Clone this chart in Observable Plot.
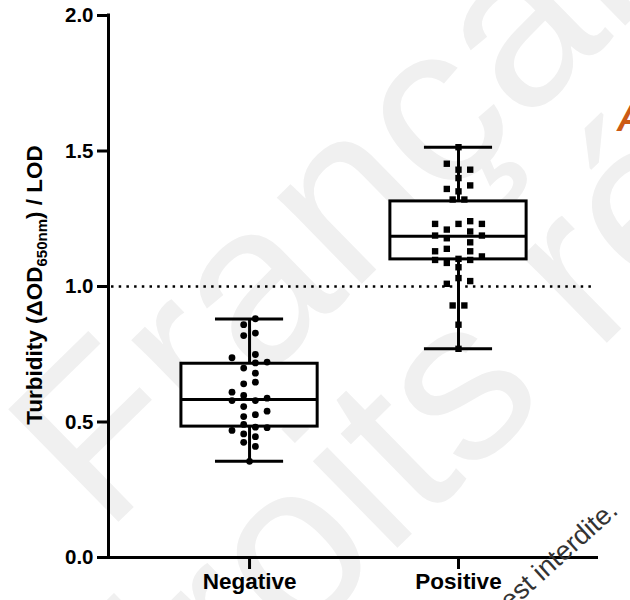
<!DOCTYPE html>
<html>
<head>
<meta charset="utf-8">
<script src="https://cdn.jsdelivr.net/npm/d3@7"></script>
<script src="https://cdn.jsdelivr.net/npm/@observablehq/plot@0.6"></script>
<style>
  html, body { margin: 0; padding: 0; background: white; }
  #chart { width: 630px; height: 600px; overflow: hidden; }
</style>
</head>
<body>
<div id="chart"></div>
<script>
// ---- Data ----
const categories = ["Negative", "Positive"];

const negativeValues = [0.881, 0.859, 0.828, 0.819, 0.749, 0.737, 0.721, 0.718, 0.699, 0.680,
  0.647, 0.641, 0.610, 0.598, 0.588, 0.579, 0.579, 0.557, 0.540, 0.527,
  0.520, 0.491, 0.481, 0.479, 0.469, 0.456, 0.446, 0.425, 0.410, 0.355];
const negativeColumns = [0.5, -0.5, 0.5, -0.5, 0.5, -1.5, 1.5, 0.5, -0.5, 0.5,
  0.5, -0.5, -1.5, -0.5, 1.5, -1.5, 0.5, -0.5, 1.5, 0.5,
  -0.5, -0.5, 0.5, 1.5, -1.5, -0.5, 0.5, -0.5, 0.5, 0];

const positiveValues = [1.514, 1.453, 1.431, 1.431, 1.400, 1.373, 1.360, 1.351, 1.321, 1.321,
  1.231, 1.231, 1.241, 1.231, 1.210, 1.203, 1.188, 1.188, 1.178, 1.163,
  1.139, 1.130, 1.130, 1.111, 1.098, 1.102, 1.098, 1.087, 1.071, 1.031,
  1.010, 1.020, 0.930, 0.930, 0.859, 0.770];
const positiveColumns = [0, -1, 0, 1, 0, 1, -1, 0, -0.5, 0.5,
  -2, 0, 1, 2, -1, 1, -2, 2, -1, 1,
  -1, -2, 1, 2, -2, 0, 1, -1, 0, 0,
  -1, 1, -0.5, 0.5, 0, 0];

// box statistics (min, Q1, median, Q3, max) per category
const boxMin = [0.355, 0.770];
const boxQ1 = [0.483, 1.100];
const boxMedian = [0.583, 1.185];
const boxQ3 = [0.715, 1.314];
const boxMax = [0.880, 1.514];

const yTicks = [0, 0.5, 1.0, 1.5, 2.0];
const thresholdLine = [1.0];

// ---- Derived tables ----
const xDomain = [0.325, 2.67];
const boxHalf = 0.326, capHalf = 0.163, colStep = 0.056;

const boxes = categories.map((c, i) => ({
  cat: c, pos: i + 1,
  min: boxMin[i], q1: boxQ1[i], median: boxMedian[i], q3: boxQ3[i], max: boxMax[i]
}));
const negPoints = negativeValues.map((v, i) => ({ x: 1 + negativeColumns[i] * colStep, y: v }));
const posPoints = positiveValues.map((v, i) => ({ x: 2 + positiveColumns[i] * colStep, y: v }));

const font = "'Liberation Sans', Arial, sans-serif";

const plot = Plot.plot({
  width: 630,
  height: 600,
  marginLeft: 108,
  marginRight: 32,
  marginTop: 15,
  marginBottom: 43,
  style: { fontFamily: font, background: "white", color: "black" },
  x: { type: "linear", domain: xDomain },
  y: { domain: [0, 2] },
  marks: [
    // whiskers
    Plot.ruleX(boxes, { x: "pos", y1: "min", y2: "max", stroke: "black", strokeWidth: 3 }),
    Plot.ruleY(boxes, { y: "min", x1: d => d.pos - capHalf, x2: d => d.pos + capHalf, stroke: "black", strokeWidth: 3 }),
    Plot.ruleY(boxes, { y: "max", x1: d => d.pos - capHalf, x2: d => d.pos + capHalf, stroke: "black", strokeWidth: 3 }),
    // box
    Plot.rect(boxes, { x1: d => d.pos - boxHalf, x2: d => d.pos + boxHalf, y1: "q1", y2: "q3", fill: "white", stroke: "black", strokeWidth: 3 }),
    Plot.ruleY(boxes, { y: "median", x1: d => d.pos - boxHalf, x2: d => d.pos + boxHalf, stroke: "black", strokeWidth: 3 }),
    // threshold
    Plot.ruleY(thresholdLine, { stroke: "black", strokeWidth: 2.5, strokeDasharray: "2.5,5.2", insetLeft: 3, insetRight: 2 }),
    // points
    Plot.dot(negPoints, { x: "x", y: "y", r: 3.4, fill: "black", stroke: "none", symbol: "circle" }),
    Plot.dot(posPoints, { x: "x", y: "y", r: 3.6, fill: "black", stroke: "none", symbol: "square" }),
    // axis lines
    Plot.ruleX([xDomain[0]], { y1: 0, y2: 2, stroke: "black", strokeWidth: 3, strokeLinecap: "square" }),
    Plot.ruleY([0], { stroke: "black", strokeWidth: 3 }),
    // axes
    Plot.axisY({ ticks: yTicks, tickFormat: d3.format(".1f"), tickSize: 11, tickPadding: 4,
      strokeWidth: 3, fontSize: 20.5, fontWeight: "bold", label: null }),
    Plot.axisX({ ticks: [1, 2], tickFormat: d => categories[d - 1], tickSize: 12, tickPadding: 4,
      strokeWidth: 3, fontSize: 22.5, fontWeight: "bold", label: null })
  ]
});

document.getElementById("chart").appendChild(plot);

// ---- Extra text: watermark, y-axis title with subscript, panel letter ----
const svg = d3.select(plot);
const wm = svg.insert("g", ":first-child").attr("fill", "#f0f0f0")
  .attr("text-anchor", "start")
  .attr("font-family", font).attr("font-size", 229);
wm.append("text").attr("text-anchor", "start").attr("transform", "translate(105,535) rotate(-44.4)").text("Française");
wm.append("text").attr("text-anchor", "start").attr("transform", "translate(150,790) rotate(-44.4)").text("droits réservés");
svg.insert("rect", ":first-child").attr("width", 630).attr("height", 600).attr("fill", "white");

const title = svg.append("text")
  .attr("transform", "translate(42,285) rotate(-90)")
  .attr("text-anchor", "middle")
  .attr("font-family", font).attr("font-weight", "bold").attr("font-size", 22.5)
  .attr("fill", "black");
title.append("tspan").text("Turbidity (ΔOD");
title.append("tspan").attr("dy", 5).attr("font-size", 15).text("650nm");
title.append("tspan").attr("dy", -5).text(") / LOD");

svg.append("text")
  .attr("x", 617).attr("y", 131).attr("text-anchor", "start")
  .attr("font-family", font).attr("font-weight", "bold").attr("font-style", "italic").attr("font-size", 36)
  .attr("fill", "#cc5a14").text("A");

svg.append("text")
  .attr("transform", "translate(510,611) rotate(-42)").attr("text-anchor", "start")
  .attr("font-family", font).attr("font-size", 27)
  .attr("fill", "#333").text("est interdite.");
</script>
</body>
</html>
